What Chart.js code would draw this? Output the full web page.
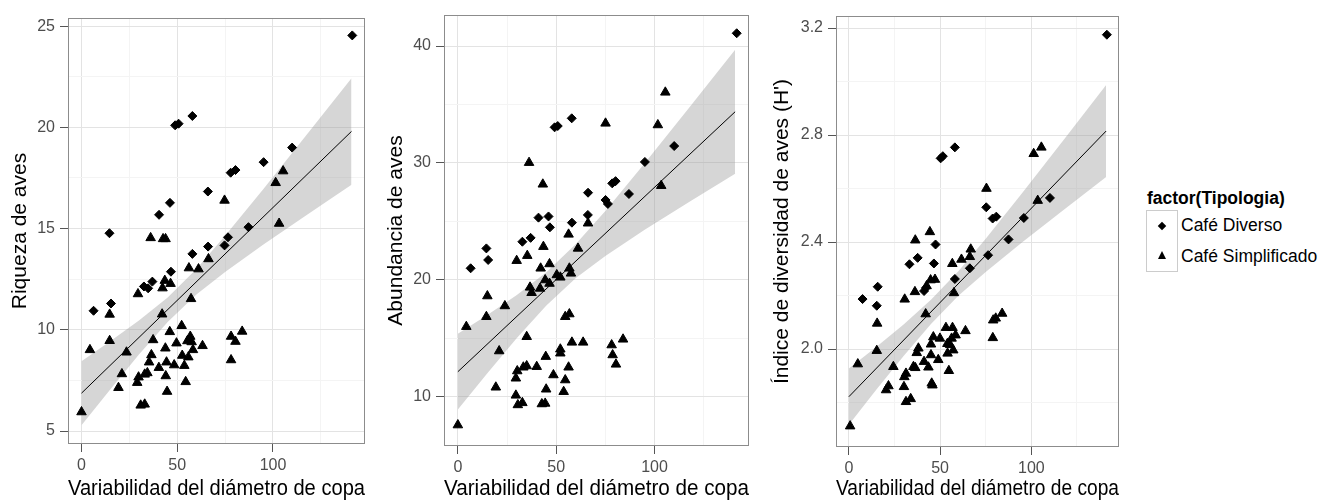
<!DOCTYPE html>
<html>
<head>
<meta charset="utf-8">
<script src="https://cdn.jsdelivr.net/npm/chart.js@4.4.0/dist/chart.umd.min.js"></script>
<style>
  body { margin: 0; background: #fff; width: 1321px; height: 500px; position: relative; overflow: hidden;
         font-family: "Liberation Sans", Arial, sans-serif; }
  canvas { position: absolute; top: 0; }
  #leg { position: absolute; left: 1146px; top: 186px; color: #000; }
  #leg .ttl { font-weight: bold; font-size: 17.5px; line-height: 24px; margin-left: 1px; }
  #leg .row { height: 31px; position: relative; }
  #leg .key { position: absolute; left: 0; top: 0; width: 32px; height: 32px; box-sizing: border-box;
              border: 1px solid #cccccc; background: #fff; }
  #leg .row + .row .key { border-top: none; height: 31px; }
  #leg .lab { position: absolute; left: 35px; top: 5px; font-size: 17.5px; white-space: nowrap; }
  .dia { position: absolute; left: 12px; top: 12px; width: 6px; height: 6px; background: #000; transform: rotate(45deg); }
  .tri { position: absolute; left: 11px; top: 10px; width: 0; height: 0;
         border-left: 4.5px solid transparent; border-right: 4.5px solid transparent; border-bottom: 8px solid #000; }
</style>
</head>
<body>
<canvas id="riqueza" width="375" height="500" style="left:0px"></canvas>
<canvas id="abundancia" width="384" height="500" style="left:375px"></canvas>
<canvas id="diversidad" width="370" height="500" style="left:759px"></canvas>

<div id="leg">
  <div class="ttl">factor(Tipologia)</div>
  <div class="row"><div class="key"><div class="dia"></div></div><div class="lab">Café Diverso</div></div>
  <div class="row"><div class="key"><div class="tri"></div></div><div class="lab">Café Simplificado</div></div>
</div>

<script>
// eje x comun
const xTicks = [0, 25, 50, 75, 100, 125];
const xLabels = [0, 50, 100];

// curva de ajuste y banda de confianza (x de la banda)
const fitX = [0, 141];
const bandX = [0, 15, 30, 45, 60, 75, 95, 118, 141];

// --- Riqueza de aves ---
const rqDivX = [6.3, 14.6, 15.4, 32.6, 34.8, 37.0, 40.5, 46.2, 46.7, 48.9, 50.7, 57.9, 57.9, 66.0, 66.1, 74.7, 76.5, 77.9, 80.4, 87.2, 95.1, 110.0, 141.4];
const rqDivY = [10.94, 14.77, 11.3, 12.14, 12.05, 12.38, 15.68, 16.27, 12.87, 20.1, 20.18, 20.56, 13.75, 16.83, 14.11, 14.17, 14.57, 17.76, 17.89, 15.07, 18.28, 19.0, 24.54];
const rqSimX = [0, 4.4, 14.7, 14.7, 19.3, 21.1, 23.5, 29.1, 29.5, 29.8, 30.9, 33.0, 33.0, 34.4, 35.3, 36.1, 36.5, 37.4, 40.4, 42.1, 42.3, 42.6, 43.5, 43.8, 43.9, 44.0, 44.4, 44.7, 46.1, 46.5, 48.4, 49.6, 52.3, 52.6, 53.7, 54.4, 55.3, 55.8, 56.1, 56.8, 57.2, 57.5, 58.2, 61.1, 63.2, 66.3, 74.7, 78.1, 78.1, 80.4, 83.9, 101.4, 103.2, 105.3];
const rqSimY = [5.94, 9.01, 9.46, 10.76, 7.14, 7.82, 8.89, 7.39, 11.77, 7.66, 6.27, 6.32, 7.8, 7.87, 8.4, 14.54, 8.76, 9.5, 8.13, 10.77, 12.06, 14.49, 12.43, 9.09, 14.49, 7.72, 8.4, 6.95, 9.9, 12.28, 8.26, 9.34, 10.2, 8.73, 8.23, 7.43, 9.45, 8.65, 13.05, 9.67, 11.53, 9.4, 9.01, 13.0, 9.21, 13.5, 16.39, 9.67, 8.51, 9.42, 9.92, 17.26, 15.25, 17.84];
const rqFitY = [6.87, 19.8];
const rqLo = [5.29, 7.05, 8.78, 10.39, 11.74, 12.86, 14.21, 15.70, 17.17];
const rqHi = [8.45, 9.44, 10.46, 11.60, 13.00, 14.64, 16.96, 19.68, 22.43];
const rqTicks = [5, 7.5, 10, 12.5, 15, 17.5, 20, 22.5, 25];
const rqLabels = [5, 10, 15, 20, 25];

// --- Abundancia de aves ---
const abDivX = [6.5, 14.5, 15.4, 32.8, 37.0, 41.0, 46.1, 46.8, 49.2, 50.8, 57.9, 58.0, 66.2, 66.1, 75.1, 76.3, 78.5, 80.2, 87.0, 95.1, 110.0, 141.8];
const abDivY = [21.0, 22.7, 21.71, 23.27, 23.6, 25.33, 25.43, 24.5, 33.05, 33.16, 33.82, 24.9, 27.46, 25.56, 26.84, 26.5, 28.26, 28.45, 27.35, 30.09, 31.45, 41.09];
const abSimX = [0, 4.3, 14.5, 15.0, 19.3, 21.0, 23.9, 29.5, 29.5, 29.9, 30.2, 30.5, 32.8, 33.3, 35.0, 35.0, 35.3, 36.2, 36.7, 37.5, 40.1, 41.8, 42.1, 42.7, 43.2, 43.5, 44.4, 44.4, 44.7, 44.9, 46.6, 46.6, 48.6, 50.3, 52.1, 52.1, 52.1, 53.8, 54.6, 54.6, 56.3, 56.3, 56.7, 56.7, 57.5, 58.0, 61.1, 63.7, 66.2, 75.1, 78.2, 78.7, 80.4, 84.0, 101.7, 103.4, 105.5];
const abSimY = [7.6, 16.01, 16.86, 18.63, 10.83, 13.93, 17.78, 11.6, 10.14, 21.65, 12.22, 9.32, 9.5, 12.54, 12.65, 15.15, 22.08, 30.03, 19.37, 18.91, 12.59, 19.28, 21.0, 9.4, 28.18, 22.85, 20.0, 9.45, 13.45, 10.66, 21.37, 19.7, 11.88, 20.43, 20.23, 14.08, 13.74, 10.45, 16.86, 11.45, 23.9, 12.54, 21.0, 17.09, 20.57, 14.67, 22.7, 14.67, 24.85, 33.39, 14.44, 13.59, 12.79, 14.93, 33.25, 28.06, 36.04];
const abFitY = [12.16, 34.38];
const abLo = [8.92, 12.03, 15.05, 17.83, 20.17, 22.06, 24.29, 26.71, 29.08];
const abHi = [15.40, 17.01, 18.72, 20.67, 23.07, 25.90, 29.97, 34.81, 39.68];
const abTicks = [10, 15, 20, 25, 30, 35, 40];
const abLabels = [10, 20, 30, 40];

// --- Indice de diversidad (H') ---
const dvDivX = [7.5, 15.8, 15.3, 33.2, 37.7, 41.2, 42.3, 46.6, 47.5, 50.3, 51.5, 58.1, 58.1, 66.3, 75.3, 76.3, 78.8, 80.8, 87.5, 95.9, 110.2, 141.4];
const dvDivY = [2.187, 2.233, 2.162, 2.317, 2.341, 2.217, 2.229, 2.32, 2.391, 2.713, 2.721, 2.754, 2.262, 2.302, 2.53, 2.351, 2.488, 2.495, 2.41, 2.49, 2.565, 3.175];
const dvSimX = [0.7, 4.9, 15.3, 15.5, 20.4, 21.7, 24.4, 30.2, 30.4, 31.3, 30.6, 31.3, 33.9, 35.4, 36.4, 36.2, 36.4, 37.2, 38.1, 41.2, 42.1, 42.6, 43.6, 44.4, 44.8, 45.0, 45.0, 45.4, 45.8, 46.3, 47.2, 49.0, 49.9, 53.2, 54.0, 54.1, 54.8, 55.5, 56.3, 56.7, 56.8, 57.2, 57.6, 58.5, 61.7, 63.9, 66.3, 66.8, 75.4, 78.9, 79.1, 80.5, 84.0, 101.3, 103.5, 105.5];
const dvSimY = [1.712, 1.944, 1.994, 2.096, 1.847, 1.862, 1.934, 1.859, 1.896, 1.909, 2.186, 1.803, 1.814, 1.934, 1.93, 2.214, 2.407, 1.986, 2.003, 1.953, 2.131, 2.236, 1.932, 2.438, 2.258, 2.018, 1.978, 1.872, 1.865, 2.045, 2.26, 1.96, 2.04, 2.08, 2.02, 1.984, 1.919, 2.016, 2.04, 2.319, 2.08, 1.996, 2.21, 2.052, 2.335, 2.068, 2.345, 2.373, 2.6, 2.042, 2.108, 2.115, 2.133, 2.73, 2.555, 2.754];
const dvFitY = [1.822, 2.815];
const dvLo = [1.717, 1.848, 1.974, 2.094, 2.199, 2.288, 2.399, 2.522, 2.643];
const dvHi = [1.927, 2.008, 2.092, 2.184, 2.291, 2.412, 2.583, 2.784, 2.987];
const dvTicks = [1.8, 2.0, 2.2, 2.4, 2.6, 2.8, 3.0, 3.2];
const dvLabels = [2.0, 2.4, 2.8, 3.2];

const FONT = '"Liberation Sans", Arial, sans-serif';
const pts = (xs, ys) => xs.map((x, i) => ({ x: x, y: ys[i] }));
const has = (list, v) => list.some(l => Math.abs(l - v) < 1e-6);

// borde gris del panel
const panelBorder = {
  id: 'panelBorder',
  afterDatasetsDraw(chart) {
    const a = chart.chartArea, c = chart.ctx;
    c.save();
    c.strokeStyle = '#8c8c8c';
    c.lineWidth = 1;
    c.strokeRect(Math.round(a.left) + 0.5, Math.round(a.top) + 0.5, Math.round(a.right - a.left) - 1, Math.round(a.bottom - a.top) - 1);
    c.restore();
  }
};

function makePanel(id, p) {
  new Chart(document.getElementById(id), {
    type: 'scatter',
    data: {
      datasets: [
        { data: pts(p.divX, p.divY), pointStyle: 'rectRot', pointRadius: 4.5, backgroundColor: '#000', borderColor: '#000', borderWidth: 1 },
        { data: pts(p.simX, p.simY), pointStyle: 'triangle', pointRadius: 5.5, backgroundColor: '#000', borderColor: '#000', borderWidth: 1 },
        { type: 'line', data: pts(fitX, p.fitY), borderColor: '#000', borderWidth: 1, pointRadius: 0, fill: false },
        { type: 'line', data: pts(bandX, p.lo), borderWidth: 0, borderColor: 'rgba(0,0,0,0)', pointRadius: 0, fill: false },
        { type: 'line', data: pts(bandX, p.hi), borderWidth: 0, borderColor: 'rgba(0,0,0,0)', pointRadius: 0,
          fill: '-1', backgroundColor: 'rgba(153,153,153,0.4)' }
      ]
    },
    options: {
      responsive: false,
      animation: false,
      layout: { padding: p.pad },
      plugins: { legend: { display: false }, tooltip: { enabled: false } },
      scales: {
        x: {
          type: 'linear', min: -7.05, max: 148.05,
          afterBuildTicks: s => { s.ticks = xTicks.map(v => ({ value: v })); },
          afterFit: s => { s.height = p.xh; },
          grid: {
            color: c => has(xLabels, c.tick.value) ? '#e3e3e3' : '#f4f4f4',
            tickColor: c => has(xLabels, c.tick.value) ? '#555' : 'rgba(0,0,0,0)',
            tickLength: 8, lineWidth: 1
          },
          border: { display: false },
          ticks: {
            autoSkip: false, maxRotation: 0, padding: 4, color: '#4d4d4d',
            font: { family: FONT, size: 16 },
            callback: v => has(xLabels, v) ? String(v) : ''
          },
          title: {
            display: true, text: 'Variabilidad del diámetro de copa', color: '#000',
            font: { family: FONT, size: 22.5 }, padding: { top: 0, bottom: -2.5 }
          }
        },
        y: {
          type: 'linear', min: p.yMin, max: p.yMax,
          afterBuildTicks: s => { s.ticks = p.yTicks.map(v => ({ value: v })); },
          afterFit: s => { s.width = p.yw; },
          grid: {
            color: c => has(p.yLabels, c.tick.value) ? '#e3e3e3' : '#f4f4f4',
            tickColor: c => has(p.yLabels, c.tick.value) ? '#555' : 'rgba(0,0,0,0)',
            tickLength: 8, lineWidth: 1
          },
          border: { display: false },
          ticks: {
            autoSkip: false, padding: 5, color: '#4d4d4d',
            font: { family: FONT, size: 16 },
            callback: v => has(p.yLabels, v) ? (p.dec ? v.toFixed(p.dec) : String(v)) : ''
          },
          title: {
            display: true, text: p.title, color: '#000',
            font: { family: FONT, size: 21 }, padding: { top: 0, bottom: 0 }
          }
        }
      }
    },
    plugins: [panelBorder]
  });
}

makePanel('riqueza', {
  divX: rqDivX, divY: rqDivY, simX: rqSimX, simY: rqSimY, fitY: rqFitY, lo: rqLo, hi: rqHi,
  yMin: 4.36, yMax: 25.4, yTicks: rqTicks, yLabels: rqLabels, dec: 0,
  title: 'Riqueza de aves', pad: { left: 8, top: 18, right: 10, bottom: 0 }, yw: 60, xh: 56
});

makePanel('abundancia', {
  divX: abDivX, divY: abDivY, simX: abSimX, simY: abSimY, fitY: abFitY, lo: abLo, hi: abHi,
  yMin: 5.81, yMax: 42.65, yTicks: abTicks, yLabels: abLabels, dec: 0,
  title: 'Abundancia de aves', pad: { left: 9, top: 15, right: 10, bottom: 0 }, yw: 60, xh: 54
});

makePanel('diversidad', {
  divX: dvDivX, divY: dvDivY, simX: dvSimX, simY: dvSimY, fitY: dvFitY, lo: dvLo, hi: dvHi,
  yMin: 1.634, yMax: 3.245, yTicks: dvTicks, yLabels: dvLabels, dec: 1,
  title: "Índice de diversidad de aves (H')", pad: { left: 11, top: 16, right: 10, bottom: 0 }, yw: 66, xh: 53
});
</script>
</body>
</html>
